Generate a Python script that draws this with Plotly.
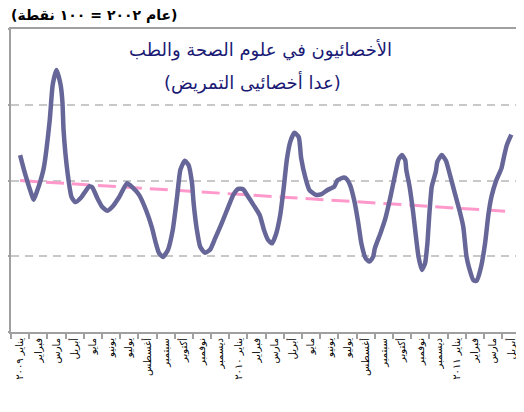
import plotly.graph_objects as go

# Month labels (Jan 2009 - Apr 2011)
month_labels = [
    "يناير ٢٠٠٩", "فبراير", "مارس", "أبريل", "مايو", "يونيو", "يوليو", "أغسطس",
    "سبتمبر", "أكتوبر", "نوفمبر", "ديسمبر",
    "يناير ٢٠١٠", "فبراير", "مارس", "أبريل", "مايو", "يونيو", "يوليو", "أغسطس",
    "سبتمبر", "أكتوبر", "نوفمبر", "ديسمبر",
    "يناير ٢٠١١", "فبراير", "مارس", "أبريل",
]
month_index = list(range(len(month_labels)))

# Series: position in months (0 = Jan 2009) and index value (2002 = 100)
series_pos = [
    0.00, 0.26, 0.70, 0.75, 0.92, 1.13, 1.30, 1.63, 1.79, 2.00, 2.23, 2.33, 2.39,
    2.61, 2.83, 3.04, 3.37, 3.81, 3.97, 4.24, 4.52, 4.79, 5.06, 5.44, 5.88, 6.15,
    6.54, 6.92, 7.24, 7.46, 7.63, 7.85, 8.12, 8.39, 8.63, 8.81, 9.05, 9.26, 9.45,
    9.54, 9.72, 9.90, 10.17, 10.45, 10.72, 11.08, 11.45, 11.72, 11.99, 12.26,
    12.54, 12.86, 13.17, 13.41, 13.63, 13.85, 14.08, 14.30, 14.50, 14.66, 14.85,
    15.08, 15.32, 15.45, 15.69, 15.90, 16.26, 16.57, 16.90, 17.27, 17.45, 17.81,
    17.95, 18.14, 18.36, 18.58, 18.76, 18.99, 19.21, 19.41, 19.50, 19.81, 20.08,
    20.36, 20.63, 20.81, 20.99, 21.17, 21.23, 21.41, 21.59, 21.76, 21.90, 22.08,
    22.26, 22.39, 22.50, 22.63, 22.85, 22.94, 23.18, 23.41, 23.63, 23.90, 24.17,
    24.36, 24.54, 24.69, 24.91, 25.09, 25.32, 25.56, 25.74, 25.91, 26.18, 26.46,
    26.60, 26.76, 27.00,
]
series_val = [
    106.7, 102.0, 95.4, 94.9, 97.0, 100.1, 103.3, 116.0, 125.2, 129.2, 125.2, 120.5, 113.3,
    102.0, 95.6, 94.3, 95.6, 98.5, 98.2, 95.4, 93.0, 92.0, 93.0, 95.6, 99.3, 98.3,
    96.2, 92.2, 87.7, 83.5, 80.9, 79.8, 81.6, 86.9, 95.7, 102.8, 105.2, 104.1, 99.3,
    94.0, 86.9, 82.5, 80.9, 81.8, 84.7, 88.7, 93.1, 96.2, 97.8, 97.7,
    95.7, 93.3, 90.9, 86.9, 84.3, 83.4, 86.0, 90.9, 98.4, 105.4, 110.2,
    112.6, 111.4, 105.9, 100.6, 97.5, 96.2, 96.4, 97.5, 98.4, 100.1, 100.8,
    100.4, 98.8, 94.9, 89.1, 83.4, 79.5, 78.6, 79.9, 82.1, 86.1, 90.0,
    95.7, 101.9, 105.6, 106.7, 105.4, 102.8, 98.4, 92.2, 85.2, 79.9, 76.4,
    78.1, 83.4, 91.3, 98.4, 102.3, 105.0, 106.7, 105.2, 101.5, 96.6, 91.8,
    87.8, 79.9, 76.8, 73.7, 73.5, 76.8, 83.4, 90.9, 95.7, 100.1, 103.2,
    106.3, 109.4, 112.1,
]

# Linear trend (start / end)
trend_pos = [0, 27]
trend_val = [100.0, 91.8]

y_range = [60, 140]
y_step = 20

title_line1 = "الأخصائيون في علوم الصحة والطب"
title_line2 = "(عدا أخصائيى التمريض)"
unit_label = "(عام ٢٠٠٢ = ١٠٠ نقطة)"

AR_FONT = "DejaVu Sans"
AXIS_GRAY = "#a0a0a0"

fig = go.Figure()
fig.add_trace(go.Scatter(
    x=trend_pos, y=trend_val, mode="lines",
    line=dict(color="#ff99cc", width=3, dash="18px,8px"),
    hoverinfo="skip", showlegend=False,
))
fig.add_trace(go.Scatter(
    x=series_pos, y=series_val, mode="lines",
    line=dict(color="#666699", width=4.5, shape="spline", smoothing=0.5),
    showlegend=False,
))

# page body has an 8px default margin; keep the page within 524x412
fig.update_layout(
    width=516, height=396,
    margin=dict(l=3, r=0, t=21, b=72, autoexpand=False),
    plot_bgcolor="white", paper_bgcolor="white",
    showlegend=False,
    xaxis=dict(
        range=[-0.5, len(month_labels) - 0.3], automargin=False,
        tickmode="array", tickvals=month_index, ticktext=month_labels,
        tickangle=-90, tickfont=dict(family=AR_FONT, size=10, color="black"),
        ticklabeloverflow="allow",
        ticks="", showgrid=False, zeroline=False,
        showline=True, linecolor=AXIS_GRAY, linewidth=2, mirror=True,
        minor=dict(tickmode="linear", tick0=-0.5, dtick=1, ticks="outside",
                   ticklen=5, tickcolor=AXIS_GRAY, tickwidth=2, showgrid=False),
    ),
    yaxis=dict(
        range=y_range, dtick=y_step, tick0=y_range[0], automargin=False,
        showticklabels=False, ticks="outside", ticklen=5,
        tickcolor=AXIS_GRAY, tickwidth=2,
        showgrid=True, gridcolor="#c8c8c8", gridwidth=1.5, griddash="8px,6px",
        zeroline=False, showline=True, linecolor=AXIS_GRAY, linewidth=2,
    ),
    annotations=[
        dict(text=unit_label, xref="paper", yref="paper", x=-0.004, y=1.0,
             xanchor="left", yanchor="bottom", yshift=4, showarrow=False,
             font=dict(family=AR_FONT, size=14, color="black", weight="bold")),
        dict(text=title_line1, xref="paper", yref="paper", x=0.487, y=0.931,
             xanchor="center", yanchor="middle", showarrow=False,
             font=dict(family=AR_FONT, size=18, color="#1a1a75")),
        dict(text=title_line2, xref="paper", yref="paper", x=0.47, y=0.822,
             xanchor="center", yanchor="middle", showarrow=False,
             font=dict(family=AR_FONT, size=18, color="#1a1a75")),
    ],
)

fig.write_html("out.html")
